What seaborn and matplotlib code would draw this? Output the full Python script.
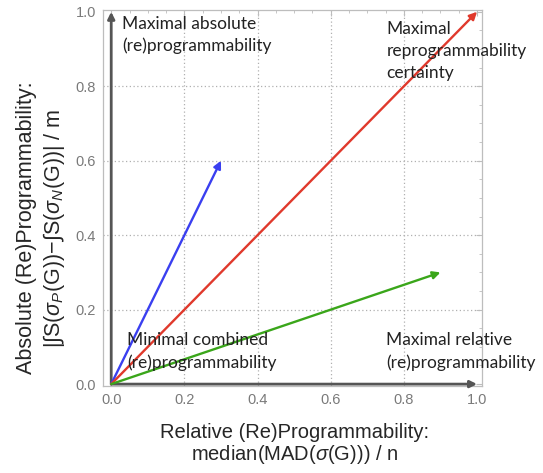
import numpy as np
import pandas as pd
import matplotlib
matplotlib.use("Agg")
import matplotlib.pyplot as plt
import seaborn as sns

# DATA:
vec_names = ["blue", "red", "green"]
vec_x = [0.3, 1.0, 0.9]
vec_y = [0.6, 1.0, 0.3]
vec_colors = ["#3a3ff0", "#e0392c", "#3aa61a"]

axis_x = [0.0, 1.0]
axis_y = [1.0, 0.0]

ticks = [0.0, 0.2, 0.4, 0.6, 0.8, 1.0]
tick_labels = ["0.0", "0.2", "0.4", "0.6", "0.8", "1.0"]

notes = ["Maximal absolute\n(re)programmability",
         "Maximal\nreprogrammability\ncertainty",
         "Minimal combined\n(re)programmability",
         "Maximal relative\n(re)programmability"]
note_x = [0.03, 0.752, 0.043, 0.752]
note_y = [0.99, 0.975, 0.14, 0.14]

sns.set_style("white")
plt.rcParams["font.family"] = ["Liberation Sans", "DejaVu Sans"]
plt.rcParams["mathtext.fontset"] = "custom"
plt.rcParams["mathtext.rm"] = "Liberation Sans"
plt.rcParams["mathtext.it"] = "Liberation Sans:italic"

fig = plt.figure(figsize=(5.43, 4.73), dpi=100)
ax = fig.add_axes([0.19, 0.184, 0.698, 0.795])

# BACKGROUND FRAME + GRID:
for s in ax.spines.values():
    s.set_color("#bdbdbd")
    s.set_linewidth(0.9)
ax.set_xlim(-0.022, 1.014)
ax.set_ylim(-0.005, 1.005)
ax.set_xticks(ticks)
ax.set_xticklabels(tick_labels)
ax.set_yticks(ticks)
ax.set_yticklabels(tick_labels)
ax.set_xticks(np.arange(0, 1.01, 0.05), minor=True)
ax.set_yticks(np.arange(0, 1.01, 0.05), minor=True)
ax.tick_params(which="both", direction="in", top=True, right=True, color="#bdbdbd")
ax.tick_params(which="major", length=4, labelsize=10.5, labelcolor="#7a7a7a", pad=5)
ax.tick_params(which="minor", length=2)
for v in ticks[1:-1]:
    ax.axvline(v, color="#b0b0b0", lw=0.9, ls=(0, (1, 2)), zorder=0)
    ax.axhline(v, color="#b0b0b0", lw=0.9, ls=(0, (1, 2)), zorder=0)

# AXIS ARROWS:
ax.annotate("", xy=(0, axis_y[0]), xytext=(0, 0),
            arrowprops=dict(arrowstyle="-|>", color="#555555", lw=2, mutation_scale=10, shrinkA=0, shrinkB=0))
ax.annotate("", xy=(axis_x[1], 0), xytext=(0, 0),
            arrowprops=dict(arrowstyle="-|>", color="#555555", lw=2, mutation_scale=10, shrinkA=0, shrinkB=0))

# VECTORS:
for x, y, c in zip(vec_x, vec_y, vec_colors):
    ax.annotate("", xy=(x, y), xytext=(0, 0),
                arrowprops=dict(arrowstyle="-|>", color=c, lw=1.7, mutation_scale=11, shrinkA=0, shrinkB=0))

# TEXT NOTES:
for t, x, y in zip(notes, note_x, note_y):
    ax.text(x, y, t, ha="left", va="top", fontsize=12.5, family=["Lato", "DejaVu Sans"],
            color="#222222", linespacing=1.45, clip_on=False)

ax.set_xlabel("Relative (Re)Programmability:\nmedian(MAD($\\it{\\sigma}$(G))) / n", fontsize=14.5, linespacing=1.05)
ax.xaxis.set_label_coords(0.505, -0.098)
ax.set_ylabel("Absolute (Re)Programmability:\n|$\\int$S($\\it{\\sigma_P}$(G))$-\\int$S($\\it{\\sigma_N}$(G))| / m",
              fontsize=15.5, linespacing=1.2)
ax.yaxis.set_label_coords(-0.095, 0.42)

fig.savefig("out.png", dpi=100)
